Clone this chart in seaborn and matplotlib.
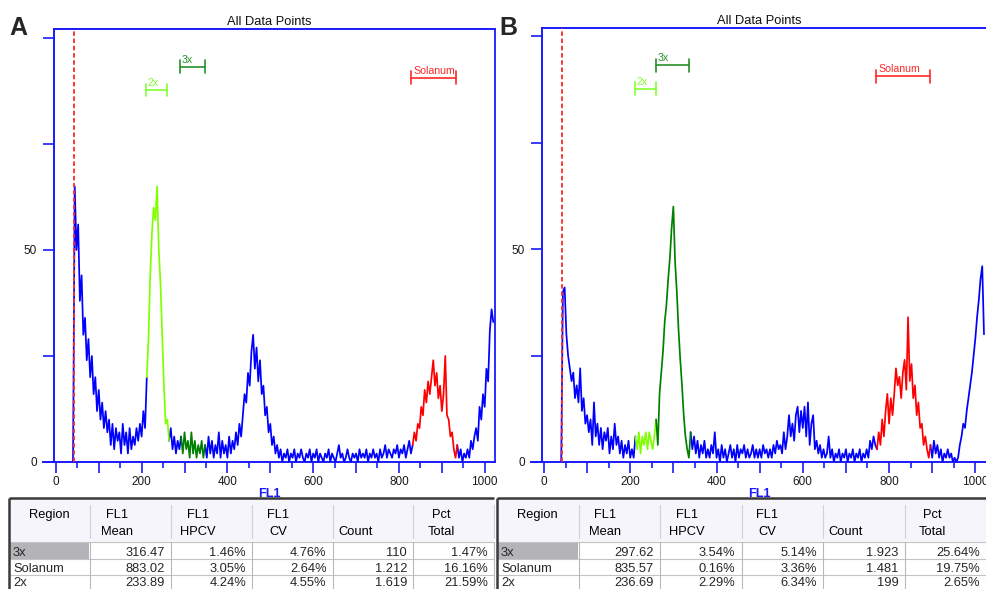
import numpy as np
import pandas as pd
import matplotlib
matplotlib.use("Agg")
import matplotlib.pyplot as plt
from matplotlib.patches import Rectangle
import seaborn as sns

# ---------------- data ----------------
# FL1 channels (4-channel bins from the lower threshold up to 1020)
channels = list(range(40, 1024, 4))

# panel A histogram counts, grouped by 100-channel blocks
a_040 = [0, 65, 50, 56, 38, 44, 30, 34, 24, 29, 20, 25, 16, 20, 12]
a_100 = [17, 10, 14, 8, 12, 7, 10, 4, 9, 3, 8, 5, 7, 2, 9, 4, 7, 2, 8, 3, 6, 4, 8, 5, 9]
a_200 = [6, 12, 8, 20, 29, 44, 54, 60, 57, 65, 50, 42, 30, 18, 9, 10, 5, 8, 3, 6, 2, 5, 3, 6, 2]
a_300 = [7, 3, 5, 1, 7, 2, 5, 1, 4, 2, 5, 1, 4, 1, 6, 2, 5, 1, 4, 2, 7, 1, 5, 2, 4]
a_400 = [1, 6, 2, 5, 3, 7, 4, 9, 6, 11, 16, 14, 21, 18, 26, 30, 22, 27, 19, 24, 16, 18, 11, 13, 7]
a_500 = [9, 4, 6, 2, 4, 1, 3, 0, 2, 1, 3, 0, 2, 1, 3, 0, 2, 1, 3, 1, 0, 2, 1, 3, 0]
a_600 = [2, 1, 3, 0, 2, 1, 0, 2, 1, 3, 0, 2, 1, 0, 2, 4, 1, 2, 0, 1, 3, 1, 0, 2, 1]
a_700 = [2, 0, 3, 1, 2, 1, 3, 0, 2, 1, 3, 1, 2, 0, 3, 1, 2, 4, 1, 3, 2, 1, 3, 2, 4]
a_800 = [1, 3, 2, 4, 1, 3, 5, 2, 4, 7, 5, 9, 8, 13, 11, 17, 14, 19, 16, 20, 24, 18, 21, 15, 18]
a_900 = [12, 16, 25, 11, 10, 6, 7, 3, 1, 4, 1, 3, 0, 2, 1, 3, 1, 5, 3, 6, 8, 5, 13, 10, 16]
a_1000 = [13, 22, 19, 31, 36, 33]

# panel B histogram counts
b_040 = [0, 40, 41, 30, 25, 22, 19, 21, 15, 18, 14, 22, 12, 15, 9]
b_100 = [11, 7, 10, 4, 14, 6, 9, 4, 8, 3, 7, 5, 8, 2, 6, 3, 9, 4, 6, 2, 5, 1, 4, 2, 5]
b_200 = [1, 3, 1, 6, 3, 7, 2, 6, 4, 7, 3, 7, 5, 3, 6, 10, 4, 16, 21, 26, 33, 37, 43, 48, 55]
b_300 = [60, 47, 40, 31, 24, 18, 11, 6, 3, 1, 7, 3, 6, 2, 5, 1, 4, 2, 5, 1, 3, 1, 4, 2, 7]
b_400 = [1, 3, 0, 4, 1, 3, 0, 2, 4, 1, 3, 0, 4, 1, 3, 2, 4, 1, 3, 1, 2, 4, 1, 3, 1]
b_500 = [3, 1, 4, 2, 3, 1, 3, 1, 4, 2, 5, 3, 4, 2, 7, 3, 6, 11, 6, 9, 5, 11, 13, 7, 12]
b_600 = [8, 13, 6, 14, 4, 9, 11, 3, 5, 2, 4, 1, 3, 1, 2, 6, 1, 3, 0, 2, 1, 3, 0, 2, 1]
b_700 = [3, 0, 2, 1, 3, 0, 2, 1, 3, 0, 2, 1, 3, 1, 5, 3, 6, 4, 3, 7, 4, 10, 6, 12, 16]
b_800 = [9, 15, 11, 16, 22, 18, 20, 15, 21, 24, 17, 34, 19, 23, 15, 18, 11, 14, 8, 9, 4, 6, 3, 1, 4]
b_900 = [1, 5, 2, 4, 1, 3, 0, 2, 1, 3, 1, 2, 0, 1, 0, 1, 4, 6, 9, 8, 12, 15, 18, 21, 25]
b_1000 = [29, 34, 38, 43, 46, 30]

counts_a = a_040 + a_100 + a_200 + a_300 + a_400 + a_500 + a_600 + a_700 + a_800 + a_900 + a_1000
counts_b = b_040 + b_100 + b_200 + b_300 + b_400 + b_500 + b_600 + b_700 + b_800 + b_900 + b_1000

# gated regions (FL1 channel limits)
regions = ["3x", "Solanum", "2x"]
gate_lo_a = [289, 829, 210]
gate_hi_a = [347, 932, 260]
gate_lo_b = [260, 770, 210]
gate_hi_b = [336, 894, 259]
threshold = 42

# region statistics
mean_a = [316.47, 883.02, 233.89]
hpcv_a = [1.46, 3.05, 4.24]
cv_a = [4.76, 2.64, 4.55]
count_a = [110, 1212, 1619]
pct_a = [1.47, 16.16, 21.59]

mean_b = [297.62, 835.57, 236.69]
hpcv_b = [3.54, 0.16, 2.29]
cv_b = [5.14, 3.36, 6.34]
count_b = [1923, 1481, 199]
pct_b = [25.64, 19.75, 2.65]

x_major = list(range(0, 1001, 100))
x_minor = list(range(50, 1000, 100))
y_ticks = [0, 25, 50, 75, 100]

# ---------------- style ----------------
sns.set_style("white")
plt.rcParams["font.family"] = ["Liberation Sans", "DejaVu Sans"]

W, H = 987, 589
fig = plt.figure(figsize=(W / 100, H / 100), dpi=100)
fig.patch.set_facecolor("white")


def px_box(x0, y0, x1, y1):
    """Pixel box (top-left origin) -> figure fraction rectangle."""
    return [x0 / W, 1 - y1 / H, (x1 - x0) / W, (y1 - y0) / H]


AXIS_BLUE = "#1a1aff"
palette = {"none": "#0000ff", "2x": "#80ff00", "3x": "#008000", "Solanum": "#ff0000"}
bracket_colors = {"2x": "#80ff30", "3x": "#289028", "Solanum": "#ff2828"}
bracket_level = {"2x": 87.7, "3x": 93.2, "Solanum": 90.6}


def histogram_frame(counts, lows, highs):
    ch = np.asarray(channels)
    y = np.asarray(counts, dtype=float)
    gate = np.array(["none"] * len(ch), dtype=object)
    for name, lo, hi in zip(regions, lows, highs):
        gate[(ch >= lo) & (ch <= hi)] = name
    rows = []
    seg, start = 0, 0
    for i in range(1, len(ch) + 1):
        if i == len(ch) or gate[i] != gate[start]:
            end = min(i, len(ch) - 1)
            for j in range(start, end + 1):
                rows.append((seg, gate[start], ch[j], y[j]))
            seg += 1
            start = i
    return pd.DataFrame(rows, columns=["segment", "gate", "channel", "count"])


def draw_panel(ax, counts, lows, highs, xmax, ytop):
    df = histogram_frame(counts, lows, highs)
    sns.lineplot(data=df, x="channel", y="count", hue="gate", units="segment",
                 estimator=None, palette=palette, legend=False, linewidth=1.25,
                 ax=ax, zorder=3)
    ax.set_xlim(-30, xmax)
    ax.set_ylim(0, ytop)
    ax.set_facecolor("white")

    for s in ax.spines.values():
        s.set_color(AXIS_BLUE)
        s.set_linewidth(1.4)
        s.set_visible(True)
    ax.spines["left"].set_position(("data", -5))
    ax.spines["top"].set_bounds(-5, xmax)
    ax.spines["right"].set_linestyle((0, (1.6, 1.0)))
    ax.spines["right"].set_linewidth(1.3)

    ax.set_xticks(x_major, labels=[str(v) if v % 200 == 0 else "" for v in x_major])
    ax.set_xticks(x_minor, minor=True)
    ax.set_yticks(y_ticks, labels=["0", "", "50", "", ""])
    ax.tick_params(axis="x", which="major", bottom=True, direction="out", length=7.9,
                   width=1.2, color=AXIS_BLUE, labelsize=8.5, labelcolor="#1a1a1a", pad=2)
    ax.tick_params(axis="x", which="minor", bottom=True, direction="out", length=4.3,
                   width=1.2, color=AXIS_BLUE)
    ax.tick_params(axis="y", which="major", left=True, direction="out", length=7.9,
                   width=1.2, color=AXIS_BLUE, labelsize=8.5, labelcolor="#1a1a1a", pad=4.3)

    ax.axvline(threshold, color="#ff2a2a", linestyle=(0, (2.5, 1.5)), linewidth=1.3, zorder=4)

    for name, lo, hi in zip(regions, lows, highs):
        c = bracket_colors[name]
        lv = bracket_level[name]
        ax.plot([lo, hi], [lv, lv], color=c, lw=1.2, clip_on=False, zorder=5)
        ax.plot([lo, lo], [lv - 1.5, lv + 1.5], color=c, lw=1.2, clip_on=False, zorder=5)
        ax.plot([hi, hi], [lv - 1.5, lv + 1.5], color=c, lw=1.2, clip_on=False, zorder=5)
        ax.annotate(name, (lo, lv), xytext=(1.4, 2.7), textcoords="offset points",
                    fontsize=7.6, color=c, ha="left", va="baseline")

    ax.set_title("All Data Points", fontsize=9.3, pad=3, color="#111111")
    ax.set_xlabel("FL1", color=AXIS_BLUE, fontweight="bold", fontsize=9.2, labelpad=0.5)
    ax.set_ylabel("")


# overlay in pixel coordinates for tables and panel letters
ov = fig.add_axes([0, 0, 1, 1])
ov.set_xlim(0, W)
ov.set_ylim(H, 0)
ov.axis("off")

ax_a = fig.add_axes(px_box(43, 29, 495, 462))
draw_panel(ax_a, counts_a, gate_lo_a, gate_hi_a, 1024, 102.1)

ax_b = fig.add_axes(px_box(531, 27.7, 987, 462))
draw_panel(ax_b, counts_b, gate_lo_b, gate_hi_b, 1027, 102.0)

ov.text(18.5, 35, "A", fontsize=18, fontweight="bold", ha="center", va="baseline")
ov.text(508.5, 35, "B", fontsize=18, fontweight="bold", ha="center", va="baseline")

# ---------------- statistics tables ----------------
headers = [("Region", ""), ("FL1", "Mean"), ("FL1", "HPCV"), ("FL1", "CV"), ("", "Count"), ("Pct", "Total")]
header_offset = [None, 27, 27, 26, 23, 28]


def fmt_count(n):
    return f"{n:,}".replace(",", ".")


def draw_table(edges, means, hpcvs, cvs, counts, pcts):
    x0, x1 = edges[0], edges[-1]
    ov.add_patch(Rectangle((x0, 498), x1 - x0, 43.5, facecolor="#f6f5fb", edgecolor="none"))
    ov.add_patch(Rectangle((x0, 541.5), x1 - x0, 60, facecolor="white", edgecolor="none"))
    ov.add_patch(Rectangle((edges[0] + 1, 542.5), edges[1] - edges[0] - 2, 16,
                           facecolor="#b4b4b8", edgecolor="none"))
    for y in [541.5, 559, 574.5]:
        ov.plot([x0, x1], [y, y], color="#c4c4c4", lw=0.8)
    for x in edges[1:]:
        ov.plot([x, x], [505, 538], color="#d0d0d8", lw=0.8)
        ov.plot([x, x], [541.5, 600], color="#b8b8b8", lw=0.8)
    ov.plot([x0, x1], [498, 498], color="#3a3a3a", lw=1.8, solid_capstyle="butt")
    ov.plot([x0, x0], [497.5, 600], color="#3a3a3a", lw=1.8, solid_capstyle="butt")

    for k, (l1, l2) in enumerate(headers):
        left, right = edges[k], edges[k + 1]
        cx = (left + right) / 2 if header_offset[k] is None else left + header_offset[k]
        if l1:
            ov.text(cx, 517.6, l1, fontsize=9.3, ha="center", va="baseline", color="#000000")
        if l2:
            ov.text(cx, 534.6, l2, fontsize=9.3, ha="center", va="baseline", color="#000000")

    baselines = [555.6, 572.0, 586.2]
    for r, name in enumerate(regions):
        yb = baselines[r]
        ov.text(edges[0] + 4, yb, name, fontsize=9.3, ha="left", va="baseline")
        cells = [f"{means[r]:.2f}", f"{hpcvs[r]:.2f}%", f"{cvs[r]:.2f}%",
                 fmt_count(counts[r]), f"{pcts[r]:.2f}%"]
        for c, txt in enumerate(cells):
            ov.text(edges[c + 2] - 6, yb, txt, fontsize=9.3, ha="right", va="baseline")


draw_table([9, 90, 171, 252, 332.5, 413, 494], mean_a, hpcv_a, cv_a, count_a, pct_a)
draw_table([497, 578.5, 660, 741.5, 823, 904.5, 986], mean_b, hpcv_b, cv_b, count_b, pct_b)

fig.savefig("out.png", dpi=100, facecolor="white")
